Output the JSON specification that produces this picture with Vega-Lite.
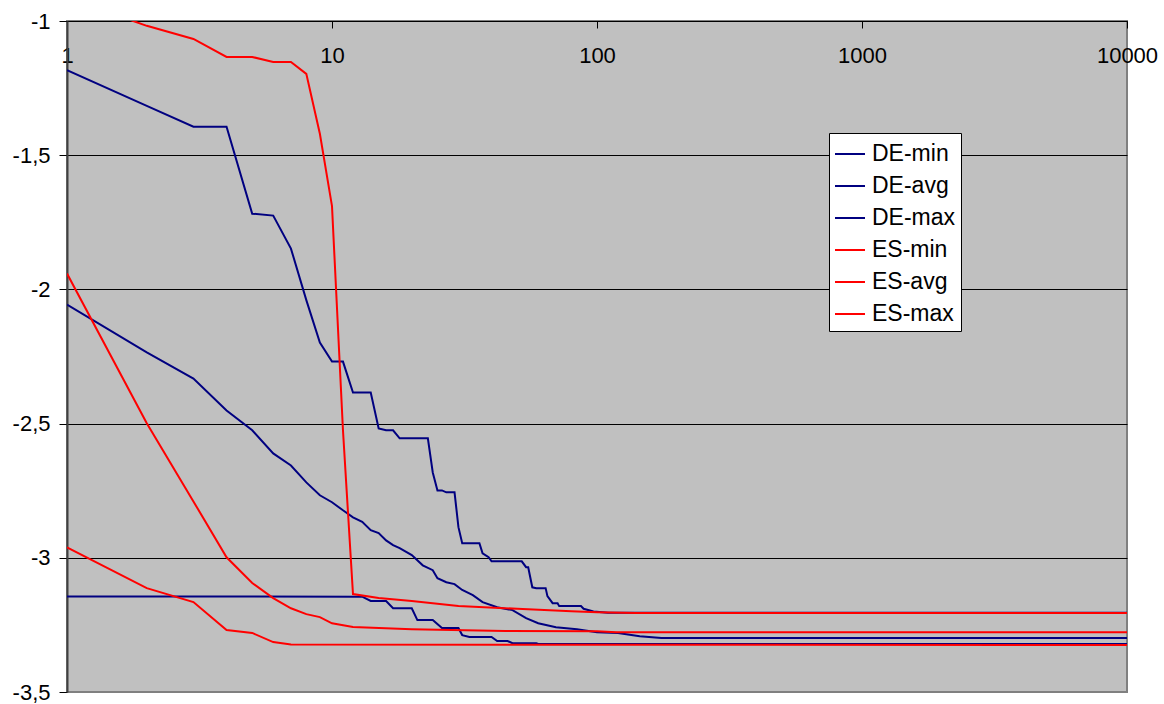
{
  "$schema": "https://vega.github.io/schema/vega-lite/v6.json",
  "autosize": "none",
  "width": 1060,
  "height": 671,
  "padding": {"left": 67, "top": 21, "right": 37, "bottom": 12},
  "background": "white",
  "config": {
    "view": {"fill": "#c0c0c0", "stroke": "#808080", "strokeWidth": 2},
    "font": "Liberation Sans"
  },
  "data": {
    "values": [
      {"series": "DE-min", "gen": 1, "fit": -3.144},
      {"series": "DE-min", "gen": 13, "fit": -3.145},
      {"series": "DE-min", "gen": 14, "fit": -3.161},
      {"series": "DE-min", "gen": 16, "fit": -3.161},
      {"series": "DE-min", "gen": 17, "fit": -3.188},
      {"series": "DE-min", "gen": 20, "fit": -3.188},
      {"series": "DE-min", "gen": 21, "fit": -3.232},
      {"series": "DE-min", "gen": 24, "fit": -3.232},
      {"series": "DE-min", "gen": 26, "fit": -3.262},
      {"series": "DE-min", "gen": 30, "fit": -3.262},
      {"series": "DE-min", "gen": 31, "fit": -3.288},
      {"series": "DE-min", "gen": 33, "fit": -3.295},
      {"series": "DE-min", "gen": 40, "fit": -3.295},
      {"series": "DE-min", "gen": 42, "fit": -3.31},
      {"series": "DE-min", "gen": 46, "fit": -3.31},
      {"series": "DE-min", "gen": 48, "fit": -3.318},
      {"series": "DE-min", "gen": 59, "fit": -3.318},
      {"series": "DE-min", "gen": 60, "fit": -3.321},
      {"series": "DE-min", "gen": 10000, "fit": -3.321},

      {"series": "DE-avg", "gen": 1, "fit": -2.057},
      {"series": "DE-avg", "gen": 2, "fit": -2.235},
      {"series": "DE-avg", "gen": 3, "fit": -2.332},
      {"series": "DE-avg", "gen": 4, "fit": -2.451},
      {"series": "DE-avg", "gen": 5, "fit": -2.525},
      {"series": "DE-avg", "gen": 6, "fit": -2.611},
      {"series": "DE-avg", "gen": 7, "fit": -2.656},
      {"series": "DE-avg", "gen": 8, "fit": -2.719},
      {"series": "DE-avg", "gen": 9, "fit": -2.767},
      {"series": "DE-avg", "gen": 10, "fit": -2.793},
      {"series": "DE-avg", "gen": 11, "fit": -2.823},
      {"series": "DE-avg", "gen": 12, "fit": -2.849},
      {"series": "DE-avg", "gen": 13, "fit": -2.866},
      {"series": "DE-avg", "gen": 14, "fit": -2.897},
      {"series": "DE-avg", "gen": 15, "fit": -2.908},
      {"series": "DE-avg", "gen": 16, "fit": -2.935},
      {"series": "DE-avg", "gen": 17, "fit": -2.953},
      {"series": "DE-avg", "gen": 18, "fit": -2.964},
      {"series": "DE-avg", "gen": 20, "fit": -2.99},
      {"series": "DE-avg", "gen": 22, "fit": -3.028},
      {"series": "DE-avg", "gen": 24, "fit": -3.046},
      {"series": "DE-avg", "gen": 25, "fit": -3.076},
      {"series": "DE-avg", "gen": 27, "fit": -3.091},
      {"series": "DE-avg", "gen": 29, "fit": -3.098},
      {"series": "DE-avg", "gen": 31, "fit": -3.12},
      {"series": "DE-avg", "gen": 34, "fit": -3.139},
      {"series": "DE-avg", "gen": 37, "fit": -3.165},
      {"series": "DE-avg", "gen": 42, "fit": -3.184},
      {"series": "DE-avg", "gen": 48, "fit": -3.195},
      {"series": "DE-avg", "gen": 54, "fit": -3.225},
      {"series": "DE-avg", "gen": 60, "fit": -3.244},
      {"series": "DE-avg", "gen": 70, "fit": -3.259},
      {"series": "DE-avg", "gen": 84, "fit": -3.266},
      {"series": "DE-avg", "gen": 100, "fit": -3.277},
      {"series": "DE-avg", "gen": 120, "fit": -3.28},
      {"series": "DE-avg", "gen": 145, "fit": -3.292},
      {"series": "DE-avg", "gen": 175, "fit": -3.299},
      {"series": "DE-avg", "gen": 10000, "fit": -3.299},

      {"series": "DE-max", "gen": 1, "fit": -1.183},
      {"series": "DE-max", "gen": 2, "fit": -1.316},
      {"series": "DE-max", "gen": 3, "fit": -1.394},
      {"series": "DE-max", "gen": 4, "fit": -1.394},
      {"series": "DE-max", "gen": 5, "fit": -1.718},
      {"series": "DE-max", "gen": 6, "fit": -1.725},
      {"series": "DE-max", "gen": 7, "fit": -1.848},
      {"series": "DE-max", "gen": 8, "fit": -2.04},
      {"series": "DE-max", "gen": 9, "fit": -2.198},
      {"series": "DE-max", "gen": 10, "fit": -2.269},
      {"series": "DE-max", "gen": 11, "fit": -2.269},
      {"series": "DE-max", "gen": 12, "fit": -2.384},
      {"series": "DE-max", "gen": 14, "fit": -2.384},
      {"series": "DE-max", "gen": 15, "fit": -2.518},
      {"series": "DE-max", "gen": 16, "fit": -2.525},
      {"series": "DE-max", "gen": 17, "fit": -2.525},
      {"series": "DE-max", "gen": 18, "fit": -2.555},
      {"series": "DE-max", "gen": 23, "fit": -2.555},
      {"series": "DE-max", "gen": 24, "fit": -2.682},
      {"series": "DE-max", "gen": 25, "fit": -2.749},
      {"series": "DE-max", "gen": 26, "fit": -2.749},
      {"series": "DE-max", "gen": 27, "fit": -2.756},
      {"series": "DE-max", "gen": 29, "fit": -2.756},
      {"series": "DE-max", "gen": 30, "fit": -2.886},
      {"series": "DE-max", "gen": 31, "fit": -2.946},
      {"series": "DE-max", "gen": 36, "fit": -2.946},
      {"series": "DE-max", "gen": 37, "fit": -2.983},
      {"series": "DE-max", "gen": 39, "fit": -2.998},
      {"series": "DE-max", "gen": 40, "fit": -3.013},
      {"series": "DE-max", "gen": 52, "fit": -3.013},
      {"series": "DE-max", "gen": 54, "fit": -3.035},
      {"series": "DE-max", "gen": 55, "fit": -3.035},
      {"series": "DE-max", "gen": 57, "fit": -3.11},
      {"series": "DE-max", "gen": 59, "fit": -3.113},
      {"series": "DE-max", "gen": 64, "fit": -3.113},
      {"series": "DE-max", "gen": 65, "fit": -3.143},
      {"series": "DE-max", "gen": 68, "fit": -3.169},
      {"series": "DE-max", "gen": 71, "fit": -3.169},
      {"series": "DE-max", "gen": 72, "fit": -3.18},
      {"series": "DE-max", "gen": 87, "fit": -3.18},
      {"series": "DE-max", "gen": 89, "fit": -3.19},
      {"series": "DE-max", "gen": 97, "fit": -3.2},
      {"series": "DE-max", "gen": 110, "fit": -3.205},
      {"series": "DE-max", "gen": 10000, "fit": -3.205},

      {"series": "ES-min", "gen": 1, "fit": -2.961},
      {"series": "ES-min", "gen": 2, "fit": -3.113},
      {"series": "ES-min", "gen": 3, "fit": -3.165},
      {"series": "ES-min", "gen": 4, "fit": -3.269},
      {"series": "ES-min", "gen": 5, "fit": -3.28},
      {"series": "ES-min", "gen": 6, "fit": -3.314},
      {"series": "ES-min", "gen": 7, "fit": -3.323},
      {"series": "ES-min", "gen": 10000, "fit": -3.325},

      {"series": "ES-avg", "gen": 1, "fit": -1.941},
      {"series": "ES-avg", "gen": 2, "fit": -2.499},
      {"series": "ES-avg", "gen": 3, "fit": -2.79},
      {"series": "ES-avg", "gen": 4, "fit": -2.998},
      {"series": "ES-avg", "gen": 5, "fit": -3.094},
      {"series": "ES-avg", "gen": 6, "fit": -3.15},
      {"series": "ES-avg", "gen": 7, "fit": -3.188},
      {"series": "ES-avg", "gen": 8, "fit": -3.21},
      {"series": "ES-avg", "gen": 9, "fit": -3.221},
      {"series": "ES-avg", "gen": 10, "fit": -3.244},
      {"series": "ES-avg", "gen": 12, "fit": -3.258},
      {"series": "ES-avg", "gen": 20, "fit": -3.266},
      {"series": "ES-avg", "gen": 45, "fit": -3.273},
      {"series": "ES-avg", "gen": 100, "fit": -3.274},
      {"series": "ES-avg", "gen": 118, "fit": -3.277},
      {"series": "ES-avg", "gen": 10000, "fit": -3.277},

      {"series": "ES-max", "gen": 1, "fit": -0.913},
      {"series": "ES-max", "gen": 2, "fit": -1.018},
      {"series": "ES-max", "gen": 3, "fit": -1.067},
      {"series": "ES-max", "gen": 4, "fit": -1.134},
      {"series": "ES-max", "gen": 5, "fit": -1.134},
      {"series": "ES-max", "gen": 6, "fit": -1.153},
      {"series": "ES-max", "gen": 7, "fit": -1.153},
      {"series": "ES-max", "gen": 8, "fit": -1.197},
      {"series": "ES-max", "gen": 9, "fit": -1.42},
      {"series": "ES-max", "gen": 10, "fit": -1.69},
      {"series": "ES-max", "gen": 11, "fit": -2.525},
      {"series": "ES-max", "gen": 12, "fit": -3.135},
      {"series": "ES-max", "gen": 15, "fit": -3.15},
      {"series": "ES-max", "gen": 20, "fit": -3.161},
      {"series": "ES-max", "gen": 30, "fit": -3.18},
      {"series": "ES-max", "gen": 50, "fit": -3.19},
      {"series": "ES-max", "gen": 80, "fit": -3.199},
      {"series": "ES-max", "gen": 100, "fit": -3.203},
      {"series": "ES-max", "gen": 140, "fit": -3.206},
      {"series": "ES-max", "gen": 10000, "fit": -3.206}
    ]
  },
  "mark": {"type": "line", "clip": true, "strokeWidth": 2},
  "encoding": {
    "x": {
      "field": "gen",
      "type": "quantitative",
      "scale": {"type": "log", "domain": [1, 10000], "nice": false},
      "axis": {
        "orient": "bottom",
        "offset": -671,
        "title": null,
        "values": [1, 10, 100, 1000, 10000],
        "labelExpr": "toString(datum.value)",
        "grid": false,
        "tickSize": 7,
        "tickColor": "#000",
        "domainColor": "#000",
        "domainWidth": 1,
        "labelFont": "Liberation Sans",
        "labelFontSize": 22,
        "labelColor": "#000",
        "labelPadding": 17,
        "labelFlush": false,
        "labelOverlap": false
      }
    },
    "y": {
      "field": "fit",
      "type": "quantitative",
      "scale": {"domain": [-3.5, -1], "nice": false, "zero": false},
      "axis": {
        "title": null,
        "values": [-3.5, -3, -2.5, -2, -1.5, -1],
        "labelExpr": "replace(toString(datum.value), '.', ',')",
        "grid": true,
        "gridColor": {"condition": {"test": "datum.value === -3.5", "value": "#808080"}, "value": "#000"},
        "gridWidth": 1,
        "tickSize": 8,
        "tickColor": "#000",
        "domainColor": "#404040",
        "domainWidth": 2,
        "labelFont": "Liberation Sans",
        "labelFontSize": 22,
        "labelColor": "#000",
        "labelPadding": 9
      }
    },
    "color": {
      "field": "series",
      "type": "nominal",
      "scale": {
        "domain": ["DE-min", "DE-avg", "DE-max", "ES-min", "ES-avg", "ES-max"],
        "range": ["#000080", "#000080", "#000080", "#ff0000", "#ff0000", "#ff0000"]
      },
      "legend": {
        "title": null,
        "orient": "none",
        "legendX": 762,
        "legendY": 112,
        "fillColor": "white",
        "strokeColor": "#000",
        "padding": 5,
        "symbolType": "stroke",
        "symbolSize": 900,
        "symbolStrokeWidth": 2,
        "labelFont": "Liberation Sans",
        "labelFontSize": 23,
        "labelColor": "#000",
        "labelOffset": 6,
        "rowPadding": 4,
        "labelLimit": 300
      }
    }
  }
}
